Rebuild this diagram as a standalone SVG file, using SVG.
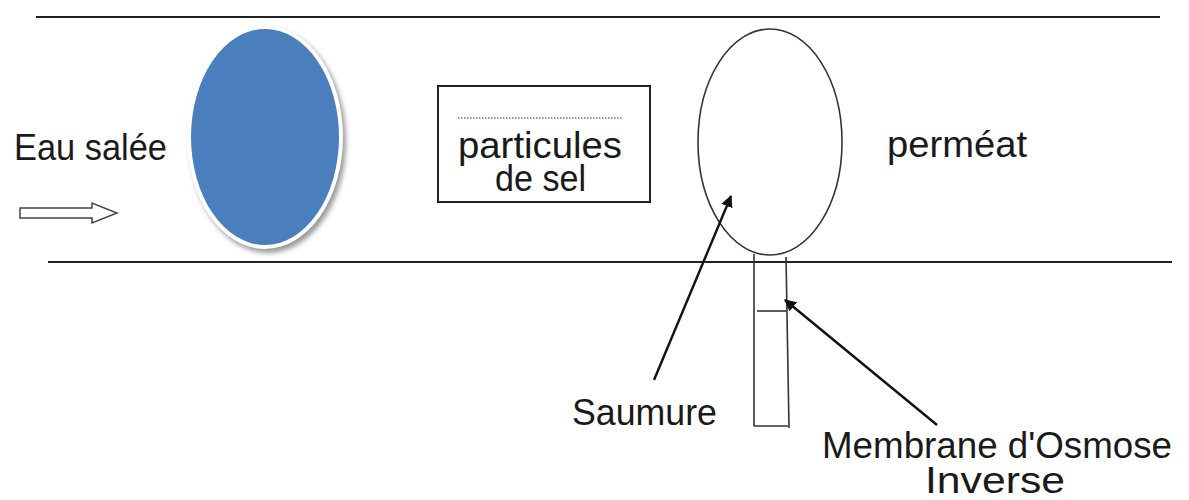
<svg xmlns="http://www.w3.org/2000/svg" width="1189" height="500" viewBox="0 0 1189 500">
<defs>
<style>
.t{font-family:"Liberation Sans",Arial,sans-serif;font-size:37px;fill:#1a1a1a}
.ln{stroke:#222;stroke-width:2;fill:none}
.thin{stroke:#333;stroke-width:1.6;fill:none}
</style>
<marker id="ah" viewBox="0 0 10 10" refX="9" refY="5" markerWidth="5" markerHeight="5" orient="auto" markerUnits="strokeWidth">
<path d="M0,0 L10,5 L0,10 Z" fill="#111"/>
</marker>
<filter id="sh" x="-20%" y="-20%" width="140%" height="140%">
<feGaussianBlur stdDeviation="2.5"/>
</filter>
</defs>
<rect width="1189" height="500" fill="#fff"/>

<g id="pipe">
<line class="ln" x1="36" y1="17" x2="1160" y2="17"/>
<line class="ln" x1="48" y1="262" x2="1172" y2="262"/>
</g>

<g id="eau-salee">
<text class="t" x="14" y="160" textLength="153" lengthAdjust="spacingAndGlyphs">Eau salée</text>
<path d="M20,208 L92,208 L92,203 L117,213 L92,223 L92,218 L20,218 Z" fill="#fff" stroke="#444" stroke-width="1.5"/>
</g>

<g id="blue-ellipse">
<ellipse cx="268" cy="141" rx="78" ry="112" fill="#9a9a9a" filter="url(#sh)"/>
<ellipse cx="265" cy="137" rx="78" ry="112" fill="#fff"/>
<ellipse cx="265" cy="137" rx="74" ry="108" fill="#4a7ebd"/>
</g>

<g id="particules">
<rect x="438" y="86" width="212" height="116" class="ln" stroke-width="2"/>
<line x1="458" y1="118" x2="622" y2="118" stroke="#777" stroke-width="1.5" stroke-dasharray="1.5,1.5"/>
<text class="t" x="458" y="158" textLength="164" lengthAdjust="spacingAndGlyphs">particules</text>
<text class="t" x="495" y="191" textLength="91" lengthAdjust="spacingAndGlyphs">de sel</text>
</g>

<g id="saumure-ellipse">
<ellipse class="thin" cx="770" cy="142" rx="72" ry="113"/>
</g>

<g id="permeat">
<text class="t" x="887" y="157" textLength="140" lengthAdjust="spacingAndGlyphs">perméat</text>
</g>

<g id="membrane-tube">
<line class="thin" x1="754" y1="254" x2="754" y2="426"/>
<line class="thin" x1="786" y1="257" x2="789" y2="428"/>
<line class="thin" x1="754" y1="426" x2="788" y2="426"/>
<line class="thin" x1="757" y1="311" x2="786" y2="311"/>
</g>

<g id="saumure-label">
<text class="t" x="572" y="425" textLength="145" lengthAdjust="spacingAndGlyphs">Saumure</text>
</g>

<g id="membrane-label">
<text class="t" x="822" y="458" textLength="350" lengthAdjust="spacingAndGlyphs">Membrane d'Osmose</text>
<text class="t" x="925" y="493" textLength="140" lengthAdjust="spacingAndGlyphs">Inverse</text>
</g>

<g id="connectors">
<line x1="654" y1="380" x2="731" y2="196" stroke="#111" stroke-width="2.4" marker-end="url(#ah)"/>
<line x1="937" y1="425" x2="785" y2="300" stroke="#111" stroke-width="2.4" marker-end="url(#ah)"/>
</g>
</svg>
